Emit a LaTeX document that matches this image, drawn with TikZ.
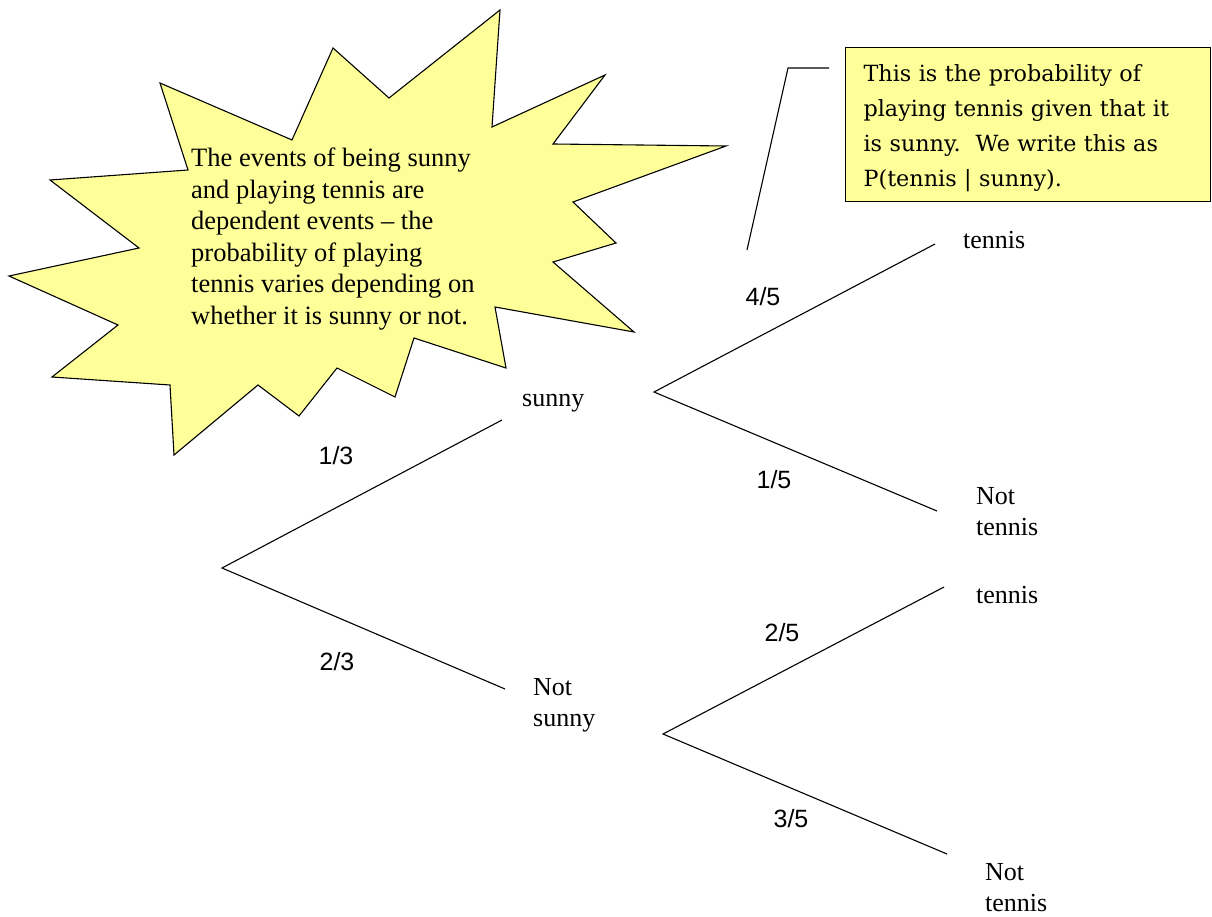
\documentclass[tikz,border=0pt]{standalone}
\usepackage{fontspec}
\setmainfont{Liberation Serif}
\newfontfamily\fracfont{Liberation Sans}
\newfontfamily\notefont{DejaVu Serif}

\definecolor{burstyellow}{RGB}{255,255,153}

\tikzset{
  branch/.style={line width=1.1pt},
  outcome/.style={inner sep=0pt, align=left, font=\fontsize{26}{31}\selectfont},
  prob/.style={inner sep=0pt, font=\fracfont\fontsize{25}{30}\selectfont},
}

\begin{document}
\begin{tikzpicture}[x=1pt,y=-1pt]
  \useasboundingbox (0,0) rectangle (1212,917);

% the starburst
\draw[line width=1.1pt, fill=burstyellow, line join=miter]
  (500,10) -- (492,127) -- (605,75) -- (553,144) -- (726,146) -- (573,202)
  -- (616,243) -- (553,262) -- (634,332) -- (495,307) -- (506,368) -- (414,338)
  -- (395,397) -- (337,368) -- (299,416) -- (258,385) -- (174,455) -- (170,385)
  -- (52,377) -- (118,325) -- (9,276) -- (139,248) -- (50,180) -- (188,170)
  -- (160,83) -- (292,140) -- (333,48) -- (389,98) -- cycle;
\node (burst) [anchor=north west, inner sep=0pt, align=left,
  font=\fontsize{26.5}{31.5}\selectfont] at (191,148)
  {The events of being sunny\\and playing tennis are\\dependent events -- the\\probability of playing\\tennis varies depending on\\whether it is sunny or not.};

% the note
\node (note) [draw, fill=burstyellow, line width=1.1pt, anchor=north west,
  minimum width=365pt, minimum height=154pt, text width=329pt, inner xsep=18pt,
  align=left, font=\notefont\fontsize{22.3}{35}\selectfont] at (845,47)
  {\rule{0pt}{25pt}This is the probability of\\playing tennis given that it\\is sunny.\ \ We write this as\\P(tennis | sunny).};
\coordinate (lead-top) at (829,68);
\coordinate (lead-knee) at (788,68);
\coordinate (lead-end) at (747,250);
\draw[branch] (lead-top)--(lead-knee)--(lead-end);

% the tree
\coordinate (root) at (222,568);
\coordinate (s-in) at (502,420);
\coordinate (n-in) at (505,689);
\coordinate (s-fork) at (654,392);
\coordinate (n-fork) at (663,734);
\coordinate (st-in) at (935,244);
\coordinate (sn-in) at (937,511);
\coordinate (nt-in) at (944,587);
\coordinate (nn-in) at (947,854);

\draw[branch] (s-in)--(root)--(n-in);
\draw[branch] (st-in)--(s-fork)--(sn-in);
\draw[branch] (nt-in)--(n-fork)--(nn-in);

\node (sunny) [outcome, anchor=west] at (522,403) {sunny};
\node (notsunny) [outcome, anchor=north west] at (533,678) {Not\\sunny};
\node (s-tennis) [outcome, anchor=west] at (963,240) {tennis};
\node (s-not) [outcome, anchor=north west] at (976,487) {Not\\tennis};
\node (n-tennis) [outcome, anchor=west] at (976,595) {tennis};
\node (n-not) [outcome, anchor=north west] at (985,863) {Not\\tennis};

\node (p13) [prob] at (336,456) {1/3};
\node (p23) [prob] at (337,662) {2/3};
\node (p45) [prob] at (763,297) {4/5};
\node (p15) [prob] at (774,480) {1/5};
\node (p25) [prob] at (782,633) {2/5};
\node (p35) [prob] at (791,819) {3/5};

\end{tikzpicture}
\end{document}
